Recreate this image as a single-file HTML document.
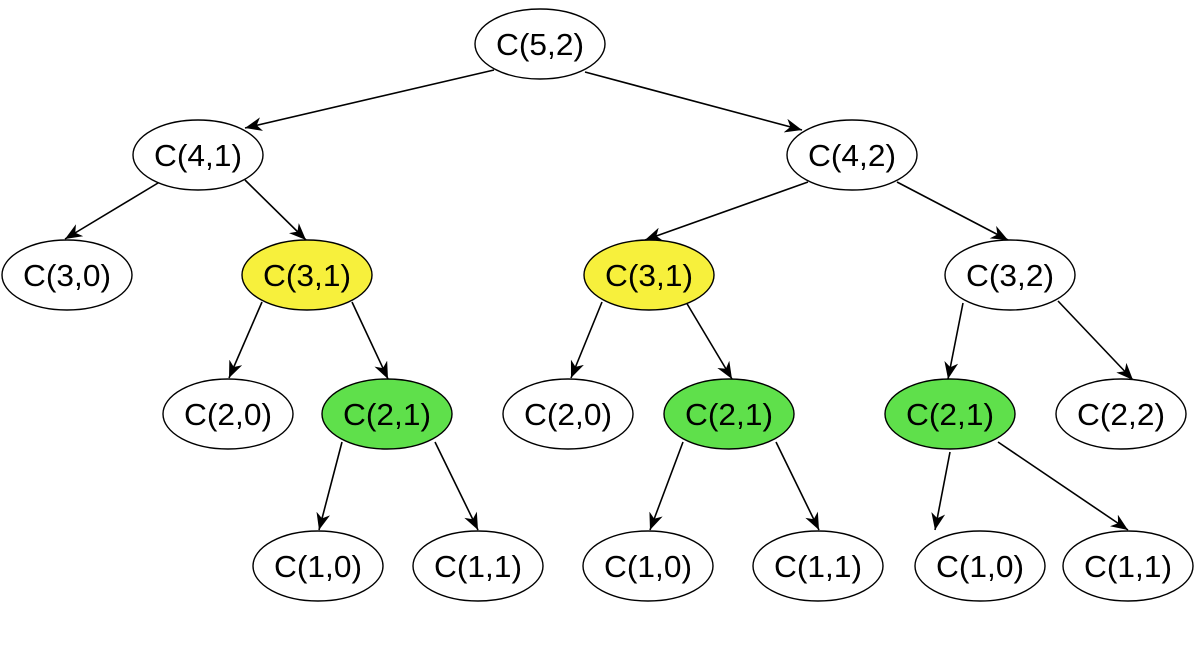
<!DOCTYPE html>
<html><head><meta charset="utf-8"><style>
html,body{margin:0;padding:0;background:#fff;}
svg{display:block;}
</style></head><body>
<svg id="s" width="1194" height="648" viewBox="0 0 1194 648" xmlns="http://www.w3.org/2000/svg">
<defs><marker id="a" markerWidth="18" markerHeight="14" refX="17" refY="7" orient="auto" markerUnits="userSpaceOnUse">
<path d="M0,0 L17,7 L0,14 L5,7 Z" fill="#000"/></marker></defs>
<g id="e"></g><g id="n"></g>
</svg>
<script>
var N={
a:[540,44,'C(5,2)','#fff'],
b:[198,155,'C(4,1)','#fff'],
c:[852,155,'C(4,2)','#fff'],
d:[67,275,'C(3,0)','#fff'],
e:[307,275,'C(3,1)','#f7f03c'],
f:[649,275,'C(3,1)','#f7f03c'],
g:[1010,275,'C(3,2)','#fff'],
h:[228,414,'C(2,0)','#fff'],
i:[387,414,'C(2,1)','#5fe04b'],
j:[568,414,'C(2,0)','#fff'],
k:[729,414,'C(2,1)','#5fe04b'],
l:[950,414,'C(2,1)','#5fe04b'],
m:[1121,414,'C(2,2)','#fff'],
o:[318,566,'C(1,0)','#fff'],
p:[478,566,'C(1,1)','#fff'],
q:[648,566,'C(1,0)','#fff'],
r:[818,566,'C(1,1)','#fff'],
s:[980,566,'C(1,0)','#fff'],
t:[1128,566,'C(1,1)','#fff']};
var L=[
[494,70,245,128],[585,72,802,130],
[163,180,65,239],[245,180,306,240],
[808,182,645,240],[897,182,1008,240],
[262,302,229,378],[352,302,388,379],
[602,302,571,378],[686,302,732,379],
[963,303,948,379],[1058,301,1133,380],
[342,442,319,530],[435,442,478,530],
[683,442,650,530],[776,442,819,530],
[950,452,935,530],[998,442,1128,530]];
var RX=65,RY=35,NS='http://www.w3.org/2000/svg';
var ge=document.getElementById('e'),gn=document.getElementById('n');
L.forEach(function(v){
var l=document.createElementNS(NS,'line');l.setAttribute('x1',v[0]);l.setAttribute('y1',v[1]);l.setAttribute('x2',v[2]);l.setAttribute('y2',v[3]);
l.setAttribute('stroke','#000');l.setAttribute('stroke-width','1.6');l.setAttribute('marker-end','url(#a)');ge.appendChild(l);});
for(var k in N){var v=N[k];
var el=document.createElementNS(NS,'ellipse');el.setAttribute('cx',v[0]);el.setAttribute('cy',v[1]);el.setAttribute('rx',RX);el.setAttribute('ry',RY);
el.setAttribute('fill',v[3]);el.setAttribute('stroke','#000');el.setAttribute('stroke-width','1.4');gn.appendChild(el);
var t=document.createElementNS(NS,'text');t.setAttribute('x',v[0]);t.setAttribute('y',v[1]+11);t.setAttribute('text-anchor','middle');
t.setAttribute('font-family','Liberation Sans, sans-serif');t.setAttribute('font-size','31');t.setAttribute('textLength','88');t.setAttribute('lengthAdjust','spacingAndGlyphs');
t.textContent=v[2];gn.appendChild(t);}
</script>
</body></html>
